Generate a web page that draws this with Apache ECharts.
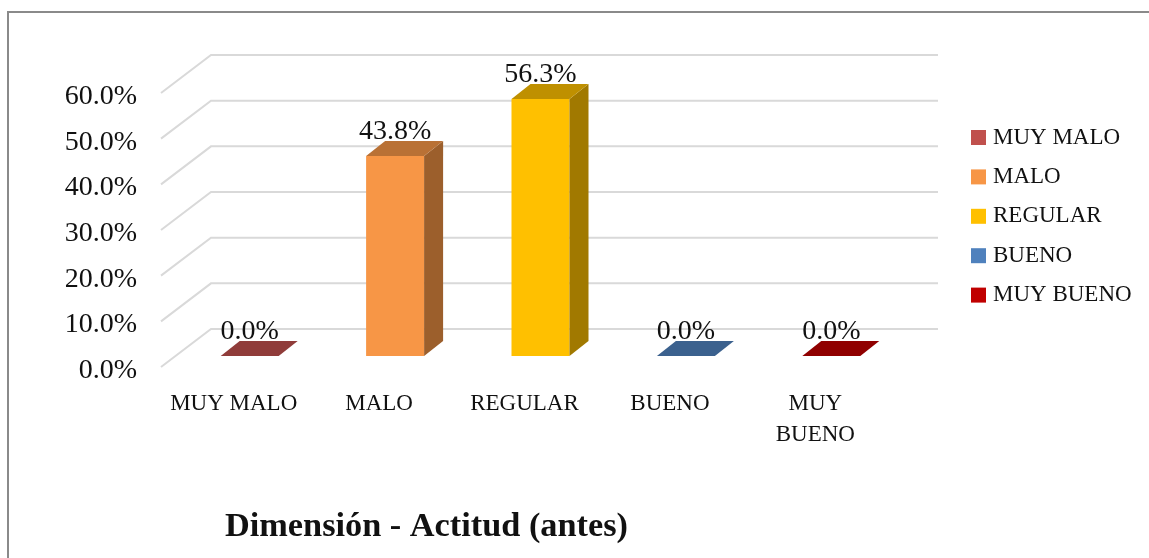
<!DOCTYPE html>
<html>
<head>
<meta charset="utf-8">
<title>Dimensión - Actitud (antes)</title>
<script src="https://cdn.jsdelivr.net/npm/echarts@6/dist/echarts.min.js"></script>
<style>
  html, body { margin: 0; padding: 0; background: #fff; }
  #main { width: 1149px; height: 558px; }
</style>
</head>
<body>
<div id="main"></div>
<script>
const categories = ['MUY MALO', 'MALO', 'REGULAR', 'BUENO', 'MUY BUENO']
const values = [0, 43.8, 56.3, 0, 0]
const colors = ['#C0504D', '#F79646', '#FFC000', '#4F81BD', '#C00000']
const valueTicks = [0, 10, 20, 30, 40, 50, 60]

const fontName = '"Liberation Serif", serif'
const chartInstance = echarts.init(document.getElementById('main'))

// 3D look, in pixels
const wallDx = 50
const wallDy = 38
const barDx = 16
const barDy = 11
const depthDx = 19
const depthDy = 15
const barWidth = 58

// darker version of a colour for the top and side faces
const shade = (color, k) => {
  const c = echarts.color.parse(color)
  return `rgb(${c[0] * k}, ${c[1] * k}, ${c[2] * k})`
}

// back wall and floor lines
const renderWall = (params, api) => {
  const p = api.coord([0, api.value(0)])
  const band = api.size([1, 0])[0]
  const x0 = p[0] - band / 2
  const y0 = p[1]
  return {
    type: 'polyline',
    silent: true,
    shape: {
      points: [
        [x0, y0],
        [x0 + wallDx, y0 - wallDy],
        [x0 + wallDx + band * categories.length, y0 - wallDy]
      ]
    },
    style: { stroke: '#D9D9D9', lineWidth: 2, fill: null }
  }
}

// one box: front, top, side and its label
const renderBar = (params, api) => {
  const top = api.coord([api.value(0), api.value(1)])
  const base = api.coord([api.value(0), 0])
  const color = api.visual('color')
  const l = top[0] + barDx - barWidth / 2
  const r = l + barWidth
  const t = top[1] - barDy
  const b = base[1] - barDy
  const children = []
  if (b - t > 0) {
    children.push({
      type: 'polygon',
      shape: { points: [[l, b], [r, b], [r, t], [l, t]] },
      style: { fill: color }
    })
    children.push({
      type: 'polygon',
      shape: { points: [[r, b], [r + depthDx, b - depthDy], [r + depthDx, t - depthDy], [r, t]] },
      style: { fill: shade(color, 0.63) }
    })
  }
  children.push({
    type: 'polygon',
    shape: { points: [[l, t], [r, t], [r + depthDx, t - depthDy], [l + depthDx, t - depthDy]] },
    style: { fill: shade(color, 0.75) }
  })
  children.push({
    type: 'text',
    style: {
      text: api.value(1).toFixed(1) + '%',
      x: (l + r) / 2,
      y: t - depthDy + 5,
      align: 'center',
      verticalAlign: 'bottom',
      font: '28px ' + fontName,
      fill: '#111'
    }
  })
  return { type: 'group', children }
}

const barSeries = categories.map((name, i) => ({
  name,
  type: 'custom',
  renderItem: renderBar,
  clip: false,
  z: 3,
  itemStyle: { color: colors[i] },
  encode: { x: 0, y: 1 },
  data: [[i, values[i]]]
}))

const option = {
  animation: false,
  grid: { left: 161, top: 93, width: 727, height: 274 },
  graphic: [
    {
      type: 'polyline',
      shape: { points: [[8, 560], [8, 12], [1151, 12]] },
      style: { stroke: '#8A8A8A', lineWidth: 2, fill: null }
    }
  ],
  title: {
    text: 'Dimensión - Actitud (antes)',
    left: 225,
    top: 510,
    padding: 0,
    textStyle: { fontFamily: fontName, fontSize: 34.3, fontWeight: 'bold', color: '#111' }
  },
  legend: {
    orient: 'vertical',
    left: 971,
    top: 126,
    padding: 0,
    icon: 'rect',
    itemWidth: 15,
    itemHeight: 15,
    itemGap: 16.4,
    data: categories,
    selectedMode: false,
    textStyle: { fontFamily: fontName, fontSize: 23, color: '#111', padding: [2, 0, 0, 2] }
  },
  xAxis: {
    type: 'category',
    data: categories,
    axisLine: { show: false },
    axisTick: { show: false },
    splitLine: { show: false },
    axisLabel: {
      interval: 0,
      margin: 21,
      fontFamily: fontName,
      fontSize: 23,
      lineHeight: 31,
      color: '#111',
      formatter: v => (v === 'MUY BUENO' ? 'MUY\nBUENO' : v)
    }
  },
  yAxis: {
    type: 'value',
    min: 0,
    max: 60,
    interval: 10,
    axisLine: { show: false },
    axisTick: { show: false },
    splitLine: { show: false },
    axisLabel: {
      margin: 24,
      formatter: v => `{t|${v.toFixed(1)}%}`,
      rich: {
        t: {
          fontFamily: fontName,
          fontSize: 28,
          color: '#111',
          padding: [7, 0, 0, 0]
        }
      }
    }
  },
  series: [
    {
      type: 'custom',
      renderItem: renderWall,
      clip: false,
      silent: true,
      z: 1,
      encode: { y: 0 },
      data: valueTicks.map(v => [v])
    },
    ...barSeries
  ]
}
chartInstance.setOption(option)
</script>
</body>
</html>
